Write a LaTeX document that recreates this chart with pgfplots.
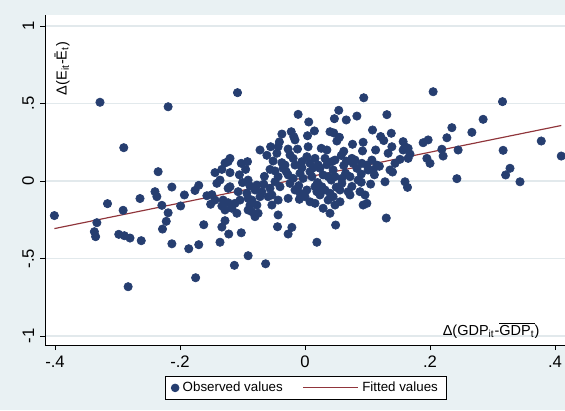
\documentclass[border=0pt]{standalone}
\usepackage{fontspec}
\setmainfont{Liberation Sans}
\usepackage{pgfplots}
\usepackage{pgfplotstable}
\pgfplotsset{compat=1.18}

\definecolor{bgblue}{RGB}{233,241,243}
\definecolor{dotnavy}{RGB}{38,62,112}
\definecolor{fitred}{RGB}{144,53,59}
\definecolor{gridgray}{RGB}{226,233,236}

% Change in employment gap vs. change in output gap
\pgfplotstableread{
x y
-0.401 -0.223
-0.328 0.508
-0.219 0.479
-0.290 0.215
-0.235 0.060
-0.144 0.054
-0.133 0.075
-0.128 0.116
-0.213 -0.039
-0.240 -0.069
-0.264 -0.113
-0.193 -0.090
-0.176 -0.061
-0.170 -0.028
-0.141 -0.015
-0.136 0.006
-0.316 -0.146
-0.333 -0.269
-0.337 -0.327
-0.335 -0.359
-0.291 -0.189
-0.237 -0.101
-0.229 -0.157
-0.219 -0.205
-0.222 -0.260
-0.228 -0.310
-0.298 -0.344
-0.289 -0.353
-0.280 -0.368
-0.262 -0.385
-0.213 -0.405
-0.199 -0.161
-0.157 -0.095
-0.149 -0.088
-0.144 -0.123
-0.151 -0.150
-0.133 -0.161
-0.162 -0.282
-0.133 -0.297
-0.128 -0.256
-0.186 -0.437
-0.170 -0.411
-0.136 -0.395
-0.175 -0.624
-0.283 -0.682
-0.108 0.570
-0.113 -0.544
-0.063 -0.534
-0.091 -0.482
0.094 0.537
-0.011 0.430
0.006 0.381
0.054 0.456
0.047 0.402
0.066 0.394
0.083 0.419
0.131 0.428
0.015 0.323
0.004 0.292
-0.022 0.318
-0.018 0.286
-0.016 0.265
-0.037 0.303
0.040 0.318
0.046 0.310
0.055 0.282
0.051 0.258
0.108 0.329
0.121 0.287
0.126 0.261
0.138 0.308
0.076 0.237
0.093 0.250
0.092 0.194
0.113 0.200
0.133 0.179
0.139 0.221
-0.041 0.252
-0.043 0.221
-0.027 0.206
-0.055 0.221
-0.072 0.200
-0.061 0.166
-0.045 0.179
-0.012 0.206
0.005 0.221
0.026 0.211
0.035 0.200
-0.120 0.146
-0.123 0.125
-0.120 0.054
-0.102 0.114
-0.092 0.125
-0.095 0.075
-0.051 0.129
-0.056 0.075
-0.048 0.065
-0.037 0.118
-0.035 0.082
0.080 0.135
0.091 0.114
0.107 0.135
0.115 0.103
0.109 0.071
0.136 0.071
0.128 -0.005
-0.120 -0.037
-0.091 0.006
-0.088 -0.032
-0.024 0.168
0.003 0.157
0.008 0.114
0.016 0.146
0.021 0.103
0.024 0.082
0.032 0.146
0.043 0.125
0.048 0.135
0.045 0.071
0.075 0.146
0.077 0.114
0.083 0.082
0.099 0.103
0.101 0.071
0.119 0.095
-0.019 0.146
-0.016 0.103
-0.005 0.125
-0.032 0.103
0.048 0.028
0.059 0.017
0.072 0.028
0.029 0.039
0.037 0.028
0.042 0.006
0.085 0.006
0.090 -0.008
0.008 0.060
0.011 0.028
-0.008 0.050
-0.003 0.017
-0.027 0.039
-0.019 0.017
-0.024 -0.015
-0.043 0.028
-0.048 -0.005
-0.040 -0.037
-0.056 -0.047
-0.077 -0.026
-0.080 -0.058
-0.069 -0.069
-0.072 -0.101
-0.059 -0.101
-0.053 -0.090
-0.043 -0.123
-0.027 -0.112
-0.107 -0.069
-0.104 -0.123
-0.112 -0.144
-0.091 -0.112
-0.088 -0.155
-0.085 -0.198
-0.077 -0.155
-0.075 -0.208
-0.043 -0.219
-0.008 -0.079
0.000 -0.101
0.003 -0.058
0.008 -0.134
0.016 -0.144
0.019 -0.069
0.024 -0.090
0.027 -0.037
0.032 -0.058
0.040 -0.079
0.045 -0.101
0.048 -0.155
0.029 -0.176
0.040 -0.208
0.056 -0.058
0.069 -0.069
0.072 -0.090
0.088 -0.069
0.096 -0.090
0.099 -0.144
0.093 -0.155
0.130 -0.239
0.056 -0.134
0.049 -0.284
0.019 -0.395
-0.021 -0.299
-0.027 -0.342
-0.044 -0.295
-0.009 -0.118
-0.080 -0.230
-0.102 -0.334
-0.122 -0.342
0.205 0.576
0.316 0.512
0.285 0.398
0.235 0.344
0.267 0.314
0.157 0.254
0.160 0.221
0.165 0.211
0.189 0.247
0.197 0.265
0.227 0.279
0.378 0.258
0.157 0.200
0.168 0.174
0.165 0.146
0.219 0.205
0.221 0.161
0.245 0.200
0.317 0.198
0.195 0.146
0.200 0.114
0.144 0.114
0.152 0.140
0.140 0.058
0.410 0.161
0.328 0.082
0.321 0.039
0.344 -0.005
0.243 0.015
0.160 -0.005
0.164 -0.041
-0.123 -0.047
-0.131 -0.123
-0.123 -0.140
-0.117 -0.176
-0.109 -0.208
-0.128 -0.187
-0.093 -0.079
-0.085 -0.123
-0.091 -0.187
-0.053 -0.155
-0.016 -0.058
0.016 -0.037
0.037 -0.123
0.059 -0.015
0.013 0.085
0.035 0.105
0.062 0.100
0.065 0.050
0.090 0.045
-0.005 0.085
0.058 0.165
0.062 0.192
-0.030 0.060
0.020 -0.010
0.075 -0.035
0.111 0.040
-0.065 0.030
-0.066 -0.020
0.105 -0.020
-0.010 -0.030
0.050 -0.040
-0.100 -0.010
-0.105 0.040
0.066 0.128
}\observed

\begin{document}
\begin{tikzpicture}
% graph region
\fill[bgblue] (-27pt,-39pt) rectangle (312pt,207pt);
\path[use as bounding box] (-27pt,-39pt) rectangle (312pt,207pt);
\begin{axis}[
  at={(0pt,0pt)}, anchor=south west,
  scale only axis, width=312pt, height=198pt,
  xmin=-0.416, xmax=0.416, ymin=-1.058, ymax=1.071,
  axis background/.style={fill=white},
  axis x line*=bottom, axis y line*=left,
  axis line style={black, line width=0.6pt, -},
  xtick={-0.4,-0.2,0,0.2,0.4},
  xticklabels={-.4,-.2,0,.2,.4},
  ytick={-1,-0.5,0,0.5,1},
  yticklabels={-1,-.5,0,.5,1},
  tick align=outside,
  major tick length=3pt,
  tick style={black, line width=0.6pt},
  ticklabel style={font=\fontsize{10}{12}\selectfont},
  yticklabel style={rotate=90, anchor=south},
  ymajorgrids,
  major grid style={gridgray, line width=0.7pt},
  legend style={at={(0.502,-0.13)}, anchor=center, draw=black,
    line width=0.5pt, fill=white, font=\fontsize{8}{10}\selectfont,
    inner xsep=3pt, inner ysep=1.5pt,
    /tikz/every even column/.append style={column sep=10pt}},
  legend columns=2,
  legend cell align=left,
]
\addplot[only marks, mark=*, mark size=2.5pt,
  mark options={draw=dotnavy, fill=dotnavy},
  legend image code/.code={\fill[dotnavy] (0pt,0pt) circle (2.3pt);}]
  table[x=x, y=y] {\observed};
\addlegendentry{Observed values}
\addplot[fitred, line width=0.7pt,
  legend image code/.code={\draw[fitred, line width=0.7pt] (0pt,0pt) -- (33pt,0pt);}]
  coordinates {(-0.401,-0.307) (0.410,0.358)};
\addlegendentry{Fitted values}
\node[rotate=90, anchor=east, font=\fontsize{8.7}{10}\selectfont]
  at (rel axis cs:0.033,0.936) {Δ(E\textsubscript{it}-Ē\textsubscript{t})};
\node[anchor=east, font=\fontsize{8.7}{10}\selectfont]
  at (rel axis cs:0.962,0.045) {Δ(GDP\textsubscript{it}-$\overline{\hbox{GDP\textsubscript{t}}}$)};
\end{axis}
\end{tikzpicture}
\end{document}
